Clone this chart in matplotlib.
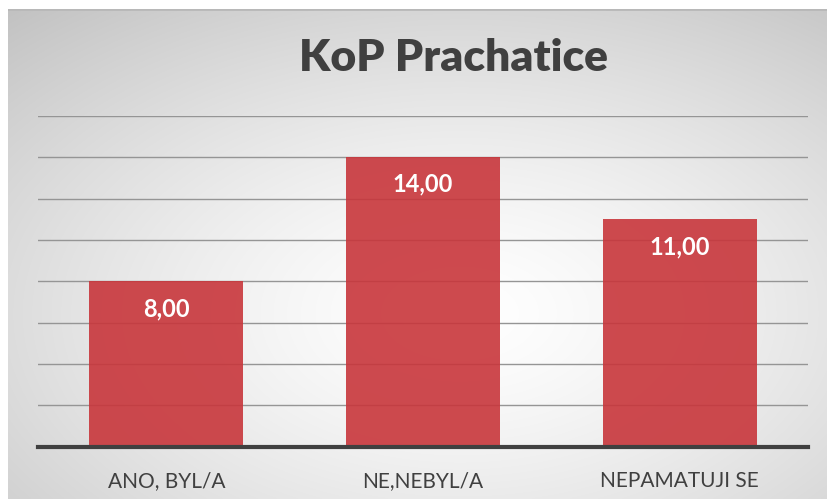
import numpy as np
import matplotlib.pyplot as plt

### DATA ###
categories = ["ANO, BYL/A", "NE,NEBYL/A", "NEPAMATUJI SE"]
values = [8, 14, 11]
title = "KoP Prachatice"

W, H = 828, 499
fig = plt.figure(figsize=(W / 100, H / 100), dpi=100)
fig.patch.set_facecolor("white")

# radial grey background (frame starts a few px in from left/top)
bg = fig.add_axes([8 / W, 0, (W - 8) / W, (H - 9) / H])
bg.set_axis_off()
ny, nx = 245, 410
yy, xx = np.mgrid[0:ny, 0:nx]
cx, cy = nx * 0.55, ny * 0.62
r = np.sqrt(((xx - cx) / nx) ** 2 + ((yy - cy) / ny) ** 2)
r = r / r.max()
shade = 1.0 - 0.24 * r ** 1.4
img = np.dstack([shade, shade, shade])
bg.imshow(img, aspect="auto", extent=[0, 1, 0, 1], interpolation="bilinear")
bg.axhline(1, color="#b8b8b8", lw=2)
bg.set_xlim(0, 1)
bg.set_ylim(0, 1)

# plot area
left, right = 38, 808
bottom_px, top_px = 446.7, 116
ax = fig.add_axes([left / W, (H - bottom_px) / H, (right - left) / W, (bottom_px - top_px) / H])
ax.patch.set_alpha(0)

x = np.arange(len(categories))
ax.bar(x, values, width=0.6, color="#C8363B", alpha=0.9, zorder=3)
ax.set_xlim(-0.5, len(categories) - 0.5)
ax.set_ylim(0, 16)
ax.set_yticks(np.arange(0, 17, 2))
ax.yaxis.grid(True, color="#959595", lw=1, zorder=1)
ax.tick_params(axis="y", left=False, labelleft=False)
ax.tick_params(axis="x", bottom=False, pad=14)
for s in ["top", "right", "left"]:
    ax.spines[s].set_visible(False)
ax.spines["bottom"].set_color("#404040")
ax.spines["bottom"].set_linewidth(3)
ax.spines["bottom"].set_zorder(4)

ax.set_xticks(x)
ax.set_xticklabels(categories, fontfamily="Lato", fontsize=15, color="#404040")

for xi, v in zip(x, values):
    ax.annotate(f"{v:.2f}".replace(".", ","), (xi, v), xytext=(0, -19.5),
                textcoords="offset points", ha="center", va="center",
                fontfamily="Lato", fontweight="bold", fontsize=17, color="white", zorder=5)

fig.text(454 / W, (H - 58) / H, title, ha="center", va="center",
         fontfamily="Lato", fontweight="heavy", fontsize=32, color="#404040")

fig.savefig("out.png", dpi=100)
